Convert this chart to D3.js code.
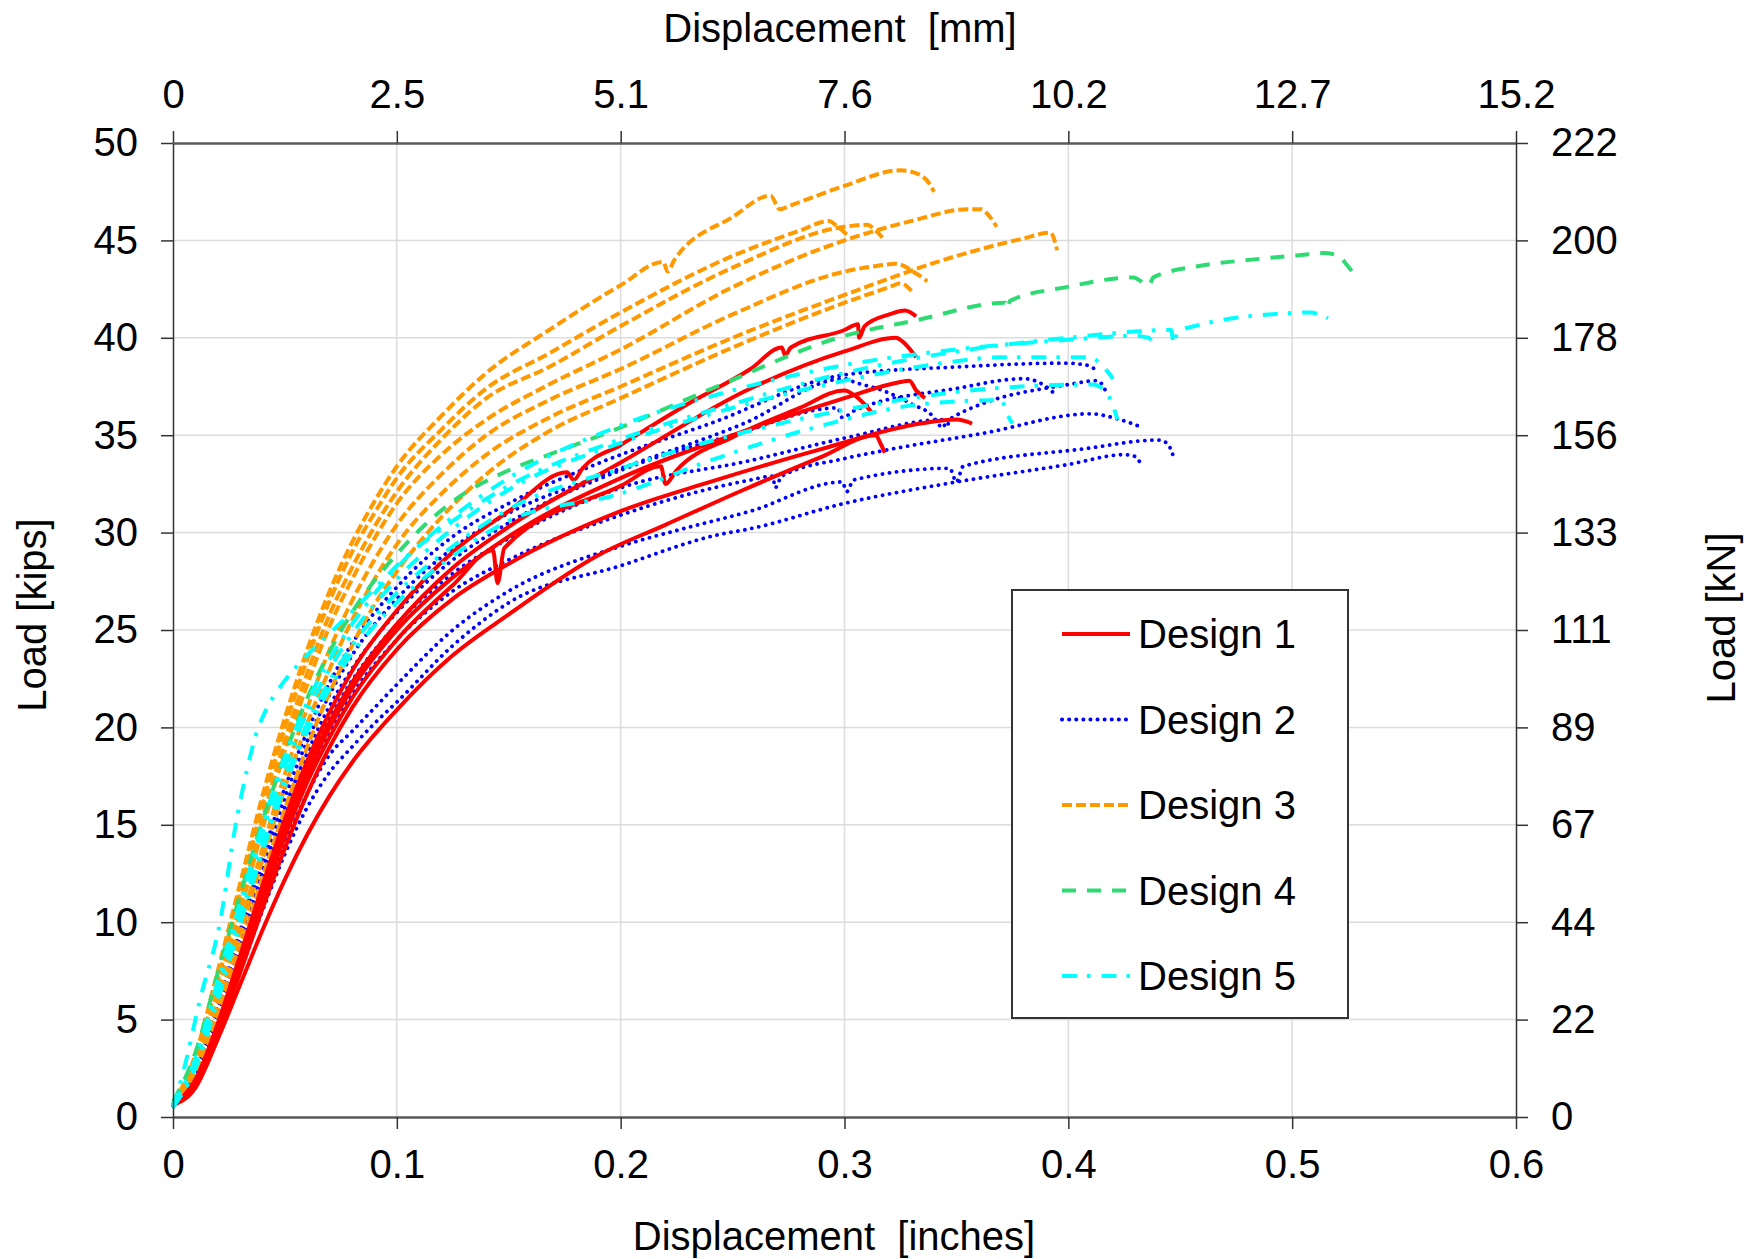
<!DOCTYPE html>
<html><head><meta charset="utf-8">
<script src="https://cdn.jsdelivr.net/npm/d3@7"></script>
<style>
html,body{margin:0;padding:0;background:#fff;}
svg{display:block;}
text{font-family:"Liberation Sans",Arial,Helvetica,sans-serif;fill:#000;}
</style>
</head><body>
<svg id="chart" width="1748" height="1259"></svg>
<script>
// ---------- axis ticks ----------
const xTicks = [0, 0.1, 0.2, 0.3, 0.4, 0.5, 0.6];
const xTickLabels = ["0", "0.1", "0.2", "0.3", "0.4", "0.5", "0.6"];
const mmTickLabels = ["0", "2.5", "5.1", "7.6", "10.2", "12.7", "15.2"];
const yTicks = [0, 5, 10, 15, 20, 25, 30, 35, 40, 45, 50];
const kNTickLabels = ["0", "22", "44", "67", "89", "111", "133", "156", "178", "200", "222"];
const seriesNames = ["Design 1", "Design 2", "Design 3", "Design 4", "Design 5"];

// ---------- Design 1 (displacement in, load kips) ----------
const d1a = [[0,0.6],[0.01,1.9],[0.02,4.8],[0.03,8.3],[0.04,11.9],[0.05,15.3],[0.06,18.3],[0.07,20.8],[0.08,22.9],[0.1,26.0],[0.125,29.0],[0.15,31.1],[0.176,33.1],[0.179,32.7],[0.183,33.3],[0.2,34.5],[0.23,36.6],[0.258,38.4],[0.272,39.5],[0.2735,39.1],[0.276,39.5],[0.3,40.4],[0.306,40.7],[0.3065,40.0],[0.309,40.6],[0.32,41.2],[0.327,41.4],[0.332,41.1]];
const d1b = [[0,0.6],[0.01,1.9],[0.02,4.7],[0.03,8.1],[0.04,11.6],[0.05,15.0],[0.06,17.9],[0.07,20.3],[0.08,22.3],[0.1,25.3],[0.125,28.2],[0.15,30.3],[0.2,33.6],[0.258,37.4],[0.3,39.3],[0.323,40.0],[0.326,39.8],[0.332,39.0]];
const d1c = [[0,0.6],[0.01,1.8],[0.02,4.6],[0.03,8.0],[0.04,11.5],[0.05,14.8],[0.06,17.6],[0.07,20.0],[0.08,22.0],[0.1,25.0],[0.125,27.7],[0.15,29.8],[0.2,32.8],[0.25,35.0],[0.3,36.9],[0.32,37.6],[0.329,37.8],[0.332,37.3],[0.336,36.9]];
const d1d = [[0,0.6],[0.01,1.8],[0.02,4.5],[0.03,7.8],[0.04,11.2],[0.05,14.4],[0.06,17.2],[0.07,19.5],[0.08,21.5],[0.1,24.5],[0.125,27.3],[0.143,29.1],[0.145,27.4],[0.148,29.2],[0.2,32.4],[0.218,33.4],[0.22,32.5],[0.225,33.2],[0.25,34.9],[0.28,36.4],[0.3,37.3],[0.305,37.0],[0.312,36.2]];
const d1e = [[0,0.6],[0.01,1.7],[0.02,4.3],[0.03,7.4],[0.04,10.7],[0.05,13.8],[0.06,16.6],[0.07,19.0],[0.08,21.0],[0.1,24.0],[0.125,26.6],[0.15,28.4],[0.2,31.1],[0.24,32.6],[0.29,34.3],[0.334,35.6],[0.35,35.8],[0.357,35.6]];
const d1f = [[0,0.6],[0.01,1.5],[0.02,4.0],[0.03,6.8],[0.04,9.6],[0.05,12.2],[0.06,14.5],[0.07,16.5],[0.08,18.2],[0.1,20.9],[0.125,23.7],[0.15,25.8],[0.191,28.9],[0.22,30.4],[0.255,32.2],[0.29,33.9],[0.314,35.0],[0.316,34.6],[0.318,34.1]];

// ---------- Design 2 ----------
const d2a = [[0,0.6],[0.01,2.4],[0.02,5.8],[0.03,9.6],[0.04,13.4],[0.05,16.9],[0.06,19.8],[0.07,22.3],[0.08,24.3],[0.1,27.2],[0.125,29.8],[0.15,31.5],[0.191,33.6],[0.24,35.6],[0.3,38.1],[0.35,38.5],[0.398,38.7],[0.408,38.6],[0.413,38.3]];
const d2b = [[0,0.6],[0.01,2.3],[0.02,5.6],[0.03,9.3],[0.04,13.0],[0.05,16.4],[0.06,19.3],[0.07,21.7],[0.08,23.7],[0.1,26.6],[0.125,29.2],[0.15,31.0],[0.191,32.9],[0.255,35.6],[0.3,37.9],[0.305,37.7],[0.317,37.3],[0.33,36.6],[0.34,35.9],[0.344,35.2]];
const d2c = [[0,0.6],[0.01,2.2],[0.02,5.4],[0.03,9.0],[0.04,12.6],[0.05,15.9],[0.06,18.7],[0.07,21.1],[0.08,23.0],[0.1,25.9],[0.125,28.6],[0.15,30.5],[0.2,33.2],[0.25,35.0],[0.297,36.4],[0.299,35.9],[0.305,36.3],[0.35,37.4],[0.38,37.9],[0.39,37.5],[0.395,37.0]];
const d2d = [[0,0.6],[0.01,2.1],[0.02,5.2],[0.03,8.7],[0.04,12.2],[0.05,15.4],[0.06,18.2],[0.07,20.5],[0.08,22.4],[0.1,25.3],[0.125,27.9],[0.15,29.7],[0.2,32.3],[0.258,33.7],[0.302,34.9],[0.344,35.8],[0.345,35.4],[0.348,35.9],[0.4,37.6],[0.413,37.8],[0.417,37.2]];
const d2e = [[0,0.6],[0.01,2.0],[0.02,4.9],[0.03,8.3],[0.04,11.7],[0.05,14.8],[0.06,17.5],[0.07,19.8],[0.08,21.7],[0.1,24.5],[0.125,27.0],[0.15,28.6],[0.2,30.9],[0.258,32.7],[0.268,32.9],[0.269,32.3],[0.272,32.9],[0.3,33.8],[0.317,34.2],[0.362,35.1],[0.41,36.1],[0.42,35.9],[0.433,35.4]];
const d2f = [[0,0.6],[0.01,1.9],[0.02,4.6],[0.03,7.8],[0.04,11.0],[0.05,14.0],[0.06,16.6],[0.07,18.6],[0.08,19.8],[0.09,21.0],[0.1,22.2],[0.125,25.0],[0.15,27.0],[0.2,29.3],[0.228,30.2],[0.258,31.1],[0.299,32.6],[0.301,32.1],[0.304,32.7],[0.347,33.3],[0.35,32.6],[0.353,33.4],[0.407,34.3],[0.44,34.75],[0.444,34.6],[0.447,33.9]];
const d2g = [[0,0.6],[0.01,1.8],[0.02,4.4],[0.03,7.5],[0.04,10.6],[0.05,13.5],[0.06,15.9],[0.07,17.7],[0.08,19.0],[0.09,20.2],[0.1,21.3],[0.125,24.2],[0.15,26.4],[0.2,28.3],[0.244,29.9],[0.258,30.2],[0.3,31.5],[0.35,32.6],[0.4,33.5],[0.425,34.0],[0.43,33.9],[0.432,33.6]];

// ---------- Design 3 ----------
const d3a = [[0,0.6],[0.01,3.2],[0.02,7.5],[0.03,12.0],[0.04,16.5],[0.05,20.5],[0.06,24.0],[0.07,27.0],[0.08,29.5],[0.09,31.6],[0.1,33.4],[0.12,36.0],[0.14,38.2],[0.168,40.4],[0.2,42.7],[0.219,43.9],[0.221,43.4],[0.224,44.0],[0.25,46.2],[0.267,47.3],[0.271,46.6],[0.276,46.8],[0.3,47.8],[0.325,48.6],[0.333,48.4],[0.338,47.9],[0.34,47.5]];
const d3b = [[0,0.7],[0.01,3.0],[0.02,7.0],[0.03,11.5],[0.04,16.0],[0.05,20.0],[0.06,23.5],[0.07,26.5],[0.08,29.0],[0.09,31.0],[0.1,32.8],[0.12,35.3],[0.14,37.4],[0.168,39.2],[0.2,41.3],[0.25,44.2],[0.28,45.5],[0.293,46.0],[0.297,45.7],[0.302,45.2]];
const d3c = [[0,0.6],[0.01,2.8],[0.02,6.6],[0.03,11.0],[0.04,15.3],[0.05,19.3],[0.06,22.8],[0.07,25.8],[0.08,28.2],[0.09,30.3],[0.1,32.1],[0.12,34.8],[0.14,36.9],[0.168,38.5],[0.2,40.6],[0.25,43.6],[0.3,45.7],[0.31,45.8],[0.314,45.5],[0.318,45.0]];
const d3d = [[0,0.6],[0.01,2.6],[0.02,6.2],[0.03,10.5],[0.04,14.8],[0.05,18.8],[0.06,22.2],[0.07,25.2],[0.08,27.6],[0.09,29.7],[0.1,31.5],[0.12,34.0],[0.14,35.8],[0.168,37.6],[0.2,39.4],[0.25,42.6],[0.3,45.0],[0.33,46.0],[0.355,46.6],[0.361,46.6],[0.365,46.2],[0.368,45.7]];
const d3e = [[0,0.6],[0.01,2.5],[0.02,5.8],[0.03,9.8],[0.04,13.8],[0.05,17.6],[0.06,21.0],[0.07,24.0],[0.08,26.5],[0.09,28.6],[0.1,30.4],[0.12,33.0],[0.14,35.0],[0.168,36.8],[0.2,38.4],[0.25,41.2],[0.3,43.4],[0.315,43.7],[0.323,43.8],[0.332,43.3],[0.337,42.9]];
const d3f = [[0,0.6],[0.01,2.4],[0.02,5.5],[0.03,9.3],[0.04,13.2],[0.05,16.9],[0.06,20.2],[0.07,23.0],[0.08,25.5],[0.09,27.6],[0.1,29.4],[0.12,32.0],[0.14,34.0],[0.168,35.9],[0.2,37.5],[0.25,40.0],[0.3,42.2],[0.35,44.2],[0.38,45.1],[0.392,45.4],[0.395,44.5]];
const d3g = [[0,0.6],[0.01,2.2],[0.02,5.0],[0.03,8.6],[0.04,12.3],[0.05,15.8],[0.06,19.0],[0.07,21.8],[0.08,24.2],[0.09,26.3],[0.1,28.0],[0.12,30.8],[0.14,33.0],[0.168,35.2],[0.2,36.9],[0.25,39.5],[0.3,41.8],[0.32,42.6],[0.325,42.8],[0.33,42.4]];

// ---------- Design 4 ----------
const d4a = [[0,0.8],[0.01,3.3],[0.02,7.4],[0.03,11.4],[0.04,15.2],[0.05,18.6],[0.06,21.5],[0.07,23.9],[0.08,25.9],[0.1,28.9],[0.125,31.6],[0.15,33.2],[0.168,34.0],[0.2,35.4],[0.243,37.5],[0.3,40.1],[0.332,40.9],[0.372,41.8],[0.3725,41.5],[0.374,41.9],[0.399,42.6],[0.429,43.1],[0.436,42.7],[0.438,43.1],[0.459,43.7],[0.481,44.0],[0.504,44.25],[0.514,44.35],[0.521,44.2],[0.524,43.8],[0.529,43.1]];

// ---------- Design 5 ----------
const d5a = [[0,0.5],[0.005,2.5],[0.012,6.0],[0.021,10.0],[0.028,15.0],[0.033,17.8],[0.037,19.6],[0.042,21.0],[0.048,22.1],[0.055,23.1],[0.065,24.3],[0.077,25.6],[0.09,27.1],[0.1,28.3],[0.125,30.6],[0.15,32.4],[0.2,34.8],[0.25,36.6],[0.3,38.2],[0.35,39.3],[0.4,40.0],[0.446,40.4],[0.447,39.7],[0.449,40.3],[0.46,40.7],[0.49,41.2],[0.508,41.3],[0.516,41.0]];
const d5b = [[0,0.6],[0.01,3.0],[0.02,7.0],[0.03,11.0],[0.04,15.0],[0.05,18.5],[0.06,21.3],[0.07,23.5],[0.08,25.3],[0.1,28.2],[0.125,30.8],[0.15,32.8],[0.2,35.5],[0.25,37.3],[0.3,38.6],[0.35,39.4],[0.4,39.9],[0.43,40.1],[0.436,40.0],[0.438,39.6]];
const d5c = [[0,0.6],[0.01,2.8],[0.02,6.6],[0.03,10.6],[0.04,14.6],[0.05,18.0],[0.06,20.8],[0.07,23.0],[0.08,24.8],[0.1,27.6],[0.125,30.2],[0.15,32.2],[0.2,34.6],[0.25,36.4],[0.3,37.8],[0.344,38.7],[0.37,39.0],[0.41,39.0],[0.414,38.7],[0.42,37.9]];
const d5d = [[0,0.5],[0.01,2.6],[0.02,6.3],[0.03,10.2],[0.04,14.0],[0.05,17.4],[0.06,20.2],[0.07,22.4],[0.08,24.2],[0.1,26.9],[0.125,29.3],[0.15,31.2],[0.2,33.3],[0.25,35.0],[0.3,36.3],[0.366,37.4],[0.411,37.6],[0.418,37.0],[0.422,35.8]];
const d5e = [[0,0.5],[0.01,2.5],[0.02,6.0],[0.03,9.9],[0.04,13.6],[0.05,17.0],[0.06,19.8],[0.07,22.0],[0.08,23.8],[0.1,26.4],[0.125,28.8],[0.15,30.6],[0.2,32.0],[0.24,33.7],[0.29,35.5],[0.335,36.6],[0.37,36.8],[0.373,36.0],[0.375,35.6]];

const design1 = [d1a, d1b, d1c, d1d, d1e, d1f];
const design2 = [d2a, d2b, d2c, d2d, d2e, d2f, d2g];
const design3 = [d3a, d3b, d3c, d3d, d3e, d3f, d3g];
const design4 = [d4a];
const design5 = [d5a, d5b, d5c, d5d, d5e];

// ---------- styles ----------
const styles = [
  {color: "#ff0000", dash: null,            width: 4.0, cap: "butt"},
  {color: "#0000ff", dash: "0.1,7",         width: 3.8, cap: "round"},
  {color: "#ff9900", dash: "10,4",          width: 4.0, cap: "butt"},
  {color: "#2edb73", dash: "14,11",         width: 4.0, cap: "butt"},
  {color: "#00ffff", dash: "15,10,3.5,11",  width: 4.0, cap: "butt"}
];

const L = 173, R = 1516, T = 143, B = 1117;
const svg = d3.select("#chart");
const x = d3.scaleLinear().domain([0, 0.6]).range([L, R]);
const y = d3.scaleLinear().domain([0, 50]).range([B, T]);
const FS = 40;

// grid
const grid = svg.append("g");
grid.selectAll("line.v").data(xTicks.slice(1, -1)).join("line")
  .attr("x1", d => x(d)).attr("x2", d => x(d)).attr("y1", T).attr("y2", B)
  .attr("stroke", "#dcdcdc").attr("stroke-width", 1.5);
grid.selectAll("line.h").data(yTicks.slice(1, -1)).join("line")
  .attr("x1", L).attr("x2", R).attr("y1", d => y(d)).attr("y2", d => y(d))
  .attr("stroke", "#dcdcdc").attr("stroke-width", 1.5);

// curves
const line = d3.line().x(d => x(d[0])).y(d => y(d[1])).curve(d3.curveMonotoneX);
const plotG = svg.append("g");
function drawGroup(curves, st) {
  plotG.append("g").selectAll("path").data(curves).join("path")
    .attr("d", line)
    .attr("fill", "none")
    .attr("stroke", st.color)
    .attr("stroke-width", st.width)
    .attr("stroke-linecap", st.cap)
    .attr("stroke-linejoin", "round")
    .attr("stroke-dasharray", st.dash);
}
drawGroup(design2, styles[1]);
drawGroup(design3, styles[2]);
drawGroup(design1, styles[0]);
drawGroup(design4, styles[3]);
drawGroup(design5, styles[4]);

// axes
function styleAxis(g, domainColor, domainWidth) {
  g.selectAll(".domain").attr("stroke", domainColor).attr("stroke-width", domainWidth);
  g.selectAll(".tick line").attr("stroke", "#333").attr("stroke-width", 1.5);
  g.selectAll(".tick text").attr("font-size", FS).attr("font-family", "Liberation Sans, Arial, sans-serif").attr("fill", "#000");
}
const axB = svg.append("g").attr("transform", `translate(0,${B})`)
  .call(d3.axisBottom(x).tickValues(xTicks).tickFormat((d, i) => xTickLabels[i]).tickSize(12).tickSizeOuter(0).tickPadding(21));
styleAxis(axB, "#5a5a5a", 2.5);
const axT = svg.append("g").attr("transform", `translate(0,${T})`)
  .call(d3.axisTop(x).tickValues(xTicks).tickFormat((d, i) => mmTickLabels[i]).tickSize(12).tickSizeOuter(0).tickPadding(23));
styleAxis(axT, "#5a5a5a", 2.5);
const axL = svg.append("g").attr("transform", `translate(${L},0)`)
  .call(d3.axisLeft(y).tickValues(yTicks).tickFormat(d => String(d)).tickSize(12).tickSizeOuter(0).tickPadding(23));
styleAxis(axL, "#333", 1.5);
const axR = svg.append("g").attr("transform", `translate(${R},0)`)
  .call(d3.axisRight(y).tickValues(yTicks).tickFormat((d, i) => kNTickLabels[i]).tickSize(12).tickSizeOuter(0).tickPadding(23));
styleAxis(axR, "#333", 1.5);

// axis titles
svg.append("text").attr("x", 840).attr("y", 42).attr("text-anchor", "middle")
  .attr("font-size", FS).style("white-space", "pre").text("Displacement  [mm]");
svg.append("text").attr("x", 834).attr("y", 1250).attr("text-anchor", "middle")
  .attr("font-size", FS).style("white-space", "pre").text("Displacement  [inches]");
svg.append("text").attr("transform", `translate(46,615) rotate(-90)`).attr("text-anchor", "middle")
  .attr("font-size", FS).text("Load [kips]");
svg.append("text").attr("transform", `translate(1735,618) rotate(-90)`).attr("text-anchor", "middle")
  .attr("font-size", FS).text("Load [kN]");

// legend
const lg = svg.append("g");
lg.append("rect").attr("x", 1012).attr("y", 590).attr("width", 336).attr("height", 428)
  .attr("fill", "#fff").attr("stroke", "#333").attr("stroke-width", 2);
const rowY = d3.scaleLinear().domain([0, 4]).range([634, 976]);
seriesNames.forEach((name, i) => {
  const st = styles[i];
  const ry = rowY(i);
  lg.append("line").attr("x1", 1062).attr("x2", 1130).attr("y1", ry).attr("y2", ry)
    .attr("stroke", st.color).attr("stroke-width", 4).attr("stroke-linecap", st.cap)
    .attr("stroke-dasharray", st.dash);
  lg.append("text").attr("x", 1138).attr("y", ry).attr("dy", "0.35em")
    .attr("font-size", FS).text(name);
});
</script>
</body></html>
